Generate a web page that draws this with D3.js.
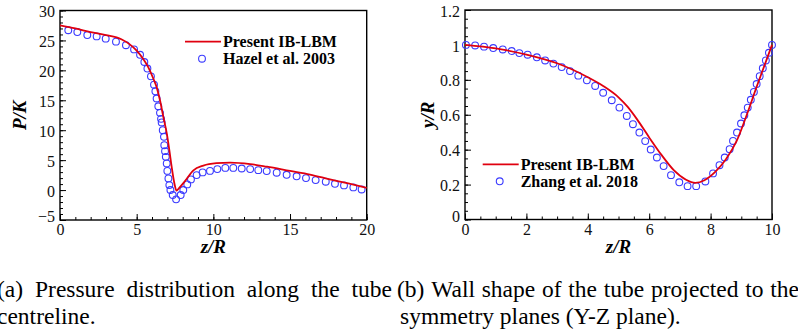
<!DOCTYPE html>
<html>
<head>
<meta charset="utf-8">
<script src="https://cdn.jsdelivr.net/npm/d3@7"></script>
<style>
  body { margin: 0; background: #fff; }
  svg { display: block; }
</style>
</head>
<body>
<svg id="fig" width="798" height="336" font-family="'Liberation Serif', 'Times New Roman', Times, serif"></svg>
<script>
// ---- data: (a) pressure along centreline ----
var presentZ_a = [0, 1, 2, 3, 4, 4.57, 5.0, 5.43, 5.76, 6.09, 6.3, 6.52, 6.74, 6.96, 7.13, 7.28, 7.46, 7.6, 7.75, 8.15, 8.7, 9.35, 10.2, 11.1, 12.4, 13.5, 15, 16.3, 17.6, 18.8, 20];
var presentP_a = [27.5, 27.0, 26.4, 25.9, 25.2, 24.3, 23.3, 21.9, 20.5, 18.6, 17.2, 15, 12.2, 9.5, 6.67, 3.9, 1.1, -0.1, 0.3, 1.5, 3.3, 4.1, 4.5, 4.6, 4.35, 3.9, 3.2, 2.6, 1.8, 1.1, 0.35];
var hazelZ = [0.54, 1.13, 1.78, 2.39, 2.98, 3.65, 4.3, 4.83, 5.22, 5.5, 5.7, 5.93, 6.13, 6.22, 6.3, 6.41, 6.52, 6.59, 6.63, 6.7, 6.78, 6.8, 6.85, 6.9, 6.96, 7.0, 7.07, 7.13, 7.2, 7.35, 7.57, 7.87, 8.04, 8.3, 8.54, 8.91, 9.3, 9.78, 10.26, 10.78, 11.3, 11.85, 12.4, 12.93, 13.48, 14.13, 14.78, 15.43, 16.04, 16.67, 17.33, 17.93, 18.52, 19.13, 19.67];
var hazelP = [26.7, 26.4, 25.9, 25.67, 25.3, 24.8, 24.2, 23.5, 22.6, 21.4, 20.3, 19.0, 17.6, 16.5, 15.3, 14.0, 12.9, 11.9, 11.3, 10.0, 8.9, 7.5, 6.5, 5.55, 4.45, 3.2, 1.95, 0.83, 0.0, -0.83, -1.55, -0.83, 0.0, 0.95, 1.78, 2.5, 2.95, 3.2, 3.5, 3.7, 3.7, 3.6, 3.5, 3.33, 3.17, 2.9, 2.55, 2.3, 2.0, 1.67, 1.4, 1.05, 0.78, 0.45, 0.1];

// ---- data: (b) wall shape ----
var presentZ_b = [0, 1, 2, 3, 4, 4.5, 5, 5.3, 5.6, 6, 6.4, 6.8, 7.2, 7.5, 7.8, 8.15, 8.5, 8.85, 9.2, 9.5, 9.75, 10];
var presentY_b = [1.0, 0.98, 0.945, 0.895, 0.815, 0.765, 0.70, 0.645, 0.575, 0.47, 0.37, 0.283, 0.228, 0.21, 0.225, 0.273, 0.345, 0.45, 0.61, 0.76, 0.88, 1.0];
var zhangZ = [0.03, 0.33, 0.62, 0.92, 1.23, 1.52, 1.77, 2.04, 2.34, 2.61, 2.88, 3.15, 3.42, 3.69, 3.97, 4.24, 4.5, 4.78, 5.03, 5.27, 5.47, 5.68, 5.87, 6.05, 6.25, 6.47, 6.71, 6.98, 7.25, 7.53, 7.83, 8.08, 8.29, 8.46, 8.62, 8.73, 8.86, 8.99, 9.1, 9.21, 9.31, 9.41, 9.5, 9.6, 9.7, 9.8, 9.9, 10.0];
var zhangY = [1.0, 0.997, 0.99, 0.982, 0.974, 0.965, 0.953, 0.944, 0.929, 0.911, 0.893, 0.873, 0.85, 0.824, 0.797, 0.765, 0.726, 0.683, 0.641, 0.593, 0.546, 0.498, 0.449, 0.401, 0.355, 0.306, 0.254, 0.213, 0.191, 0.191, 0.218, 0.264, 0.311, 0.355, 0.403, 0.45, 0.498, 0.55, 0.597, 0.641, 0.686, 0.731, 0.776, 0.821, 0.866, 0.911, 0.955, 1.0];

var svg = d3.select("#fig");
var serif = "'Liberation Serif', 'Times New Roman', Times, serif";
var red = "#e0000f", blue = "#3a3aff";

function panel(opt) {
    var x = d3.scaleLinear().domain(opt.xDomain).range([opt.left, opt.right]);
    var y = d3.scaleLinear().domain(opt.yDomain).range([opt.bottom, opt.top]);
    var g = svg.append("g");

    // minor ticks
    g.append("g")
    .attr("transform", "translate(0," + opt.bottom + ")")
    .call(d3.axisBottom(x).tickValues(d3.range(opt.xDomain[0], opt.xDomain[1] + 1e-9, opt.xMinor)).tickSize(-3).tickFormat(""))
    .call(s => s.select(".domain").remove());
    g.append("g")
    .attr("transform", "translate(" + opt.left + ",0)")
    .call(d3.axisLeft(y).tickValues(d3.range(opt.yDomain[0], opt.yDomain[1] + 1e-9, opt.yMinor)).tickSize(-3).tickFormat(""))
    .call(s => s.select(".domain").remove());

    // major ticks + labels
    var xa = g.append("g")
    .attr("transform", "translate(0," + opt.bottom + ")")
    .call(d3.axisBottom(x).tickValues(opt.xTicks).tickSize(-6).tickPadding(4).tickFormat(d3.format("~g")));
    xa.select(".domain").remove();
    xa.attr("font-family", serif).attr("font-size", 16);
    xa.selectAll("text").attr("fill", "#111");
    var ya = g.append("g")
    .attr("transform", "translate(" + opt.left + ",0)")
    .call(d3.axisLeft(y).tickValues(opt.yTicks).tickSize(-6).tickPadding(5).tickFormat(d3.format("~g")));
    ya.select(".domain").remove();
    ya.attr("font-family", serif).attr("font-size", 16);
    ya.selectAll("text").attr("fill", "#111").attr("dy", "0.38em")
    .filter(d => d === opt.yDomain[0]).attr("dy", "0.1em");
    g.selectAll(".tick line").attr("stroke", "#000").attr("stroke-width", 1);

    // frame
    g.append("rect")
    .attr("x", opt.left).attr("y", opt.top)
    .attr("width", opt.right - opt.left).attr("height", opt.bottom - opt.top)
    .attr("fill", "none").attr("stroke", "#000").attr("stroke-width", 1.4);

    // circles (reference data)
    g.append("g").selectAll("circle")
    .data(opt.cz.map((z, i) => [z, opt.cv[i]]))
    .enter().append("circle")
    .attr("cx", d => x(d[0])).attr("cy", d => y(d[1])).attr("r", 3.4)
    .attr("fill", "none").attr("stroke", blue).attr("stroke-width", 1.1);

    // present line
    g.append("path")
    .datum(opt.lz.map((z, i) => [z, opt.lv[i]]))
    .attr("d", d3.line().x(d => x(d[0])).y(d => y(d[1])).curve(d3.curveMonotoneX))
    .attr("fill", "none").attr("stroke", red).attr("stroke-width", 1.8);

    // axis titles
    g.append("text")
    .attr("x", (opt.left + opt.right) / 2).attr("y", 253)
    .attr("text-anchor", "middle").attr("font-size", 19)
    .attr("font-weight", "bold").attr("font-style", "italic")
    .text("z/R");
    g.append("text")
    .attr("transform", "translate(" + opt.yTitleX + "," + ((opt.top + opt.bottom) / 2) + ") rotate(-90)")
    .attr("text-anchor", "middle").attr("font-size", 19)
    .attr("font-weight", "bold").attr("font-style", "italic")
    .text(opt.yTitle);

    // legend
    var lg = g.append("g").attr("transform", "translate(" + opt.legX + "," + opt.legY + ")");
    lg.append("line").attr("x1", 0).attr("x2", 36).attr("y1", 0).attr("y2", 0)
    .attr("stroke", red).attr("stroke-width", 1.8);
    lg.append("circle").attr("cx", 17).attr("cy", 17).attr("r", 3.4)
    .attr("fill", "none").attr("stroke", blue).attr("stroke-width", 1.1);
    lg.append("text").attr("x", 38).attr("y", 5.5).attr("font-size", 16).attr("font-weight", "bold").text("Present IB-LBM");
    lg.append("text").attr("x", 38).attr("y", 22.5).attr("font-size", 16).attr("font-weight", "bold").text(opt.legName);
}

panel({
    left: 60, right: 366.7, top: 10.5, bottom: 220,
    xDomain: [0, 20], yDomain: [-5, 30],
    xTicks: [0, 5, 10, 15, 20], yTicks: [-5, 0, 5, 10, 15, 20, 25, 30],
    xMinor: 1, yMinor: 1,
    lz: presentZ_a, lv: presentP_a, cz: hazelZ, cv: hazelP,
    yTitle: "P/K", yTitleX: 26,
    legX: 185, legY: 41.7, legName: "Hazel et al. 2003"
});

panel({
    left: 465, right: 772, top: 10, bottom: 219.5,
    xDomain: [0, 10], yDomain: [0, 1.2],
    xTicks: [0, 2, 4, 6, 8, 10], yTicks: [0, 0.2, 0.4, 0.6, 0.8, 1, 1.2],
    xMinor: 0.5, yMinor: 0.05,
    lz: presentZ_b, lv: presentY_b, cz: zhangZ, cv: zhangY,
    yTitle: "y/R", yTitleX: 434,
    legX: 482.7, legY: 164.3, legName: "Zhang et al. 2018"
});

// captions (justified first lines)
function justified(words, x0, x1, yb) {
    var t = svg.append("g");
    var nodes = words.map(w => t.append("text").attr("y", yb).attr("font-size", 23.5).text(w));
    var widths = nodes.map(n => n.node().getComputedTextLength());
    var gap = (x1 - x0 - d3.sum(widths)) / (words.length - 1);
    var cx = x0;
    nodes.forEach((n, i) => { n.attr("x", cx); cx += widths[i] + gap; });
}
justified(["(a)", "Pressure", "distribution", "along", "the", "tube"], -3, 392, 297);
svg.append("text").attr("x", -3).attr("y", 324).attr("font-size", 23.5).text("centreline.");
justified(["(b)", "Wall", "shape", "of", "the", "tube", "projected", "to", "the"], 397, 799, 297);
svg.append("text").attr("x", 400).attr("y", 324).attr("font-size", 23.5).text("symmetry planes (Y-Z plane).");
</script>
</body>
</html>
